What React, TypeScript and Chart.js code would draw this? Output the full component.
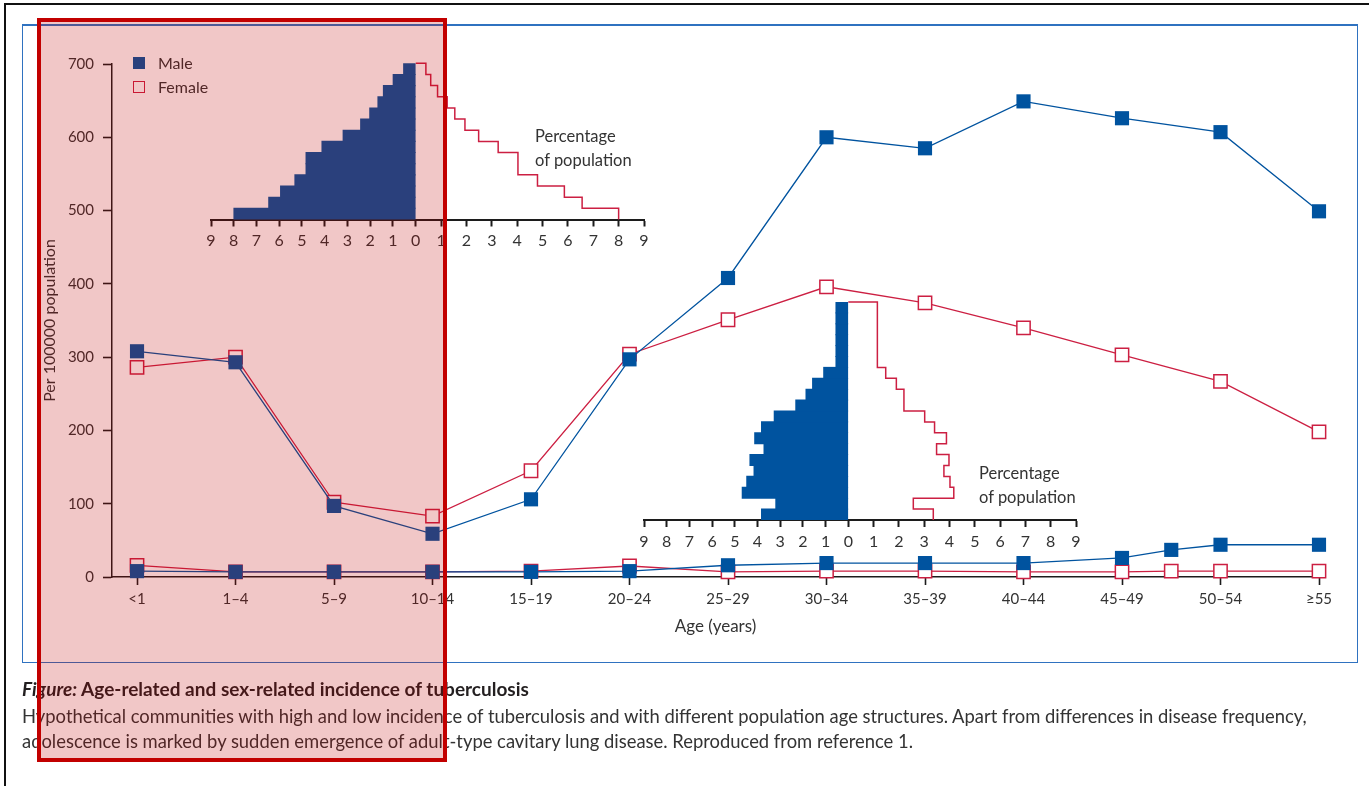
import React, { useEffect, useRef } from 'react';
import { Chart, registerables } from 'chart.js';

Chart.register(...registerables);

// ---------- data ----------
const ageGroups = ['<1', '1–4', '5–9', '10–14', '15–19', '20–24', '25–29', '30–34', '35–39', '40–44', '45–49', '50–54', '≥55'];

// high-incidence community (per 100000)
const highMale = [308, 293, 97, 59, 106, 297, 408, 600, 585, 649, 626, 607, 499];
const highFemale = [286, 300, 102, 83, 145, 304, 351, 396, 374, 340, 303, 267, 198];

// low-incidence community (per 100000); one extra survey point between 45–49 and 50–54
const lowPositions = [0, 1, 2, 3, 4, 5, 6, 7, 8, 9, 10, 10.5, 11, 12];
const lowMale = [8, 7, 7, 7, 7, 8, 16, 19, 19, 19, 26, 37, 44, 44];
const lowFemale = [16, 7, 7, 7, 8, 15, 7, 8, 8, 7, 7, 8, 8, 8];

const yTickValues = [0, 100, 200, 300, 400, 500, 600, 700];

// population pyramids: percentage of population per age band (youngest band first)
const pyramidTickPercents = [-9, -8, -7, -6, -5, -4, -3, -2, -1, 0, 1, 2, 3, 4, 5, 6, 7, 8, 9];
const youngMale = [8.0, 6.47, 5.95, 5.32, 4.83, 4.83, 4.13, 3.2, 2.43, 2.03, 1.67, 1.43, 1.0, 0.54];
const youngFemale = [8.0, 6.56, 5.86, 4.8, 4.03, 4.03, 3.25, 2.48, 1.94, 1.54, 1.24, 0.86, 0.59, 0.4];
const olderMale = [3.83, 3.2, 4.68, 4.48, 4.16, 4.34, 3.72, 4.13, 3.83, 3.27, 2.32, 1.87, 1.58, 1.09, 0.55, 0.55, 0.55, 0.55, 0.55, 0.55];
const olderFemale = [3.36, 2.57, 4.17, 4.02, 3.78, 3.98, 3.49, 3.88, 3.41, 3.02, 2.2, 2.2, 1.9, 1.48, 1.15, 1.15, 1.15, 1.15, 1.15, 1.15];

// ---------- styles ----------
const FONT = 'Lato, "Open Sans", sans-serif';
const MALE = '#00539f';
const FEMALE = '#cc1f42';
const AXIS = '#1c1c1c';
const TEXT = '#333333';
const LEFT_K = 0.897; // left half of pyramid axes is drawn slightly narrower

Chart.defaults.font.family = FONT;

function MainChart() {
  const ref = useRef<HTMLCanvasElement>(null);
  useEffect(() => {
    const maleStyle = {
      borderColor: MALE,
      backgroundColor: MALE,
      borderWidth: 1.3,
      pointStyle: 'rect',
      pointRadius: 10,
      pointBorderWidth: 0,
      pointBackgroundColor: MALE,
      clip: false,
      tension: 0,
    };
    const femaleStyle = {
      borderColor: FEMALE,
      backgroundColor: '#ffffff',
      borderWidth: 1.3,
      pointStyle: 'rect',
      pointRadius: 9.4,
      pointBorderWidth: 1.5,
      pointBorderColor: FEMALE,
      pointBackgroundColor: '#ffffff',
      clip: false,
      tension: 0,
    };
    const chart = new Chart(ref.current!, {
      type: 'line',
      data: {
        datasets: [
          { label: 'Male (high)', data: highMale.map((v, i) => ({ x: i, y: v })), ...maleStyle },
          { label: 'Male (low)', data: lowPositions.map((p, i) => ({ x: p, y: lowMale[i] })), ...maleStyle },
          { label: 'Female (high)', data: highFemale.map((v, i) => ({ x: i, y: v })), ...femaleStyle },
          { label: 'Female (low)', data: lowPositions.map((p, i) => ({ x: p, y: lowFemale[i] })), ...femaleStyle },
        ] as any,
      },
      options: {
        animation: false,
        responsive: false,
        layout: { padding: { left: 0, right: 50, top: 64, bottom: 149 } },
        plugins: { legend: { display: false }, tooltip: { enabled: false } },
        scales: {
          x: {
            type: 'linear',
            min: -0.254,
            max: 12,
            afterBuildTicks: (s: any) => {
              s.ticks = ageGroups.map((_, i) => ({ value: i }));
            },
            afterFit: (s: any) => {
              s.height = 60;
              s.paddingLeft = 0;
              s.paddingRight = 0;
            },
            ticks: {
              callback: (v: any) => ageGroups[v] ?? '',
              autoSkip: false,
              maxRotation: 0,
              padding: 5,
              color: TEXT,
              font: { size: 15, family: FONT },
            },
            grid: { drawOnChartArea: false, drawTicks: true, tickLength: 8, tickColor: AXIS, tickWidth: 1.6 },
            border: { color: AXIS, width: 1.5 },
            title: {
              display: true,
              text: 'Age (years)',
              color: TEXT,
              font: { size: 17, family: FONT },
              padding: { top: 0, bottom: 0 },
            },
          },
          y: {
            type: 'linear',
            min: 0,
            max: 700,
            afterBuildTicks: (s: any) => {
              s.ticks = yTickValues.map((v) => ({ value: v }));
            },
            afterFit: (s: any) => {
              s.width = 112;
              s.paddingTop = 0;
              s.paddingBottom = 0;
            },
            ticks: { padding: 9, color: TEXT, font: { size: 15, family: FONT } },
            grid: { drawOnChartArea: false, drawTicks: true, tickLength: 9, tickColor: AXIS, tickWidth: 1.6 },
            border: { color: AXIS, width: 1.5 },
            title: {
              display: true,
              text: 'Per 100000 population',
              color: TEXT,
              font: { size: 16, family: FONT },
              padding: { top: 40, bottom: 0 },
            },
          },
        },
      } as any,
    });
    return () => chart.destroy();
  }, []);
  return <canvas ref={ref} width={1369} height={786} style={{ position: 'absolute', left: 0, top: 0 }} />;
}

type PyramidProps = {
  male: number[];
  female: number[];
  left: number;
  top: number;
  width: number;
  height: number;
  padding: { left: number; right: number; top: number; bottom: number };
};

const AXIS_H = 30;

function Pyramid({ male, female, left, top, width, height, padding }: PyramidProps) {
  const ref = useRef<HTMLCanvasElement>(null);
  useEffect(() => {
    const n = male.length;
    const outline: { x: number; y: number }[] = [{ x: 0, y: n }];
    for (let i = n - 1; i >= 0; i--) {
      outline.push({ x: female[i], y: i + 1 });
      outline.push({ x: female[i], y: i });
    }
    const plotH = height - padding.top - padding.bottom - AXIS_H;
    const chart = new Chart(ref.current!, {
      type: 'bar',
      data: {
        labels: male.map((_, i) => String(i)),
        datasets: [
          {
            label: 'Male',
            data: male.map((v) => -v * LEFT_K),
            backgroundColor: MALE,
            borderWidth: 0,
            grouped: false,
            barThickness: plotH / n + 0.4,
            barPercentage: 1,
            categoryPercentage: 1,
            xAxisID: 'x',
            yAxisID: 'y',
          },
          {
            type: 'line',
            label: 'Female',
            indexAxis: 'x',
            data: outline,
            borderColor: FEMALE,
            borderWidth: 1.5,
            pointRadius: 0,
            fill: false,
            tension: 0,
            xAxisID: 'x',
            yAxisID: 'yf',
            clip: false,
          },
        ] as any,
      },
      options: {
        indexAxis: 'y',
        animation: false,
        responsive: false,
        layout: { padding },
        plugins: { legend: { display: false }, tooltip: { enabled: false } },
        scales: {
          x: {
            type: 'linear',
            min: -9 * LEFT_K,
            max: 9,
            offset: false,
            afterBuildTicks: (s: any) => {
              s.ticks = pyramidTickPercents.map((p) => ({ value: p < 0 ? p * LEFT_K : p }));
            },
            afterFit: (s: any) => {
              s.height = AXIS_H;
              s.paddingLeft = 0;
              s.paddingRight = 0;
            },
            ticks: {
              callback: (v: any, i: number) => String(Math.abs(pyramidTickPercents[i])),
              autoSkip: false,
              maxRotation: 0,
              padding: 5,
              color: TEXT,
              font: { size: 16, family: FONT },
            },
            grid: { drawOnChartArea: false, drawTicks: true, tickLength: 7, tickColor: AXIS, tickWidth: 2, offset: false },
            border: { color: AXIS, width: 2 },
          },
          y: { type: 'category', reverse: true, display: false, offset: true },
          yf: { type: 'linear', min: 0, max: n, display: false, offset: false, grace: 0 },
        },
      } as any,
    });
    return () => chart.destroy();
  }, []);
  return (
    <canvas
      ref={ref}
      width={width}
      height={height}
      style={{ position: 'absolute', left, top }}
    />
  );
}

const txt = (extra: React.CSSProperties): React.CSSProperties => ({
  position: 'absolute',
  fontFamily: FONT,
  color: TEXT,
  whiteSpace: 'nowrap',
  lineHeight: 1,
  ...extra,
});

export default function App() {
  return (
    <div
      style={{
        position: 'absolute',
        left: 0,
        top: 0,
        width: 1369,
        height: 786,
        overflow: 'hidden',
        background: '#ffffff',
      }}
    >
      {/* page frame */}
      <div style={{ position: 'absolute', left: 4, top: 3, width: 1369, height: 790, borderTop: '2px solid #111', borderLeft: '2px solid #111' }} />
      {/* blue figure panel */}
      <div
        style={{
          position: 'absolute',
          left: 22,
          top: 24,
          width: 1336,
          height: 639,
          boxSizing: 'border-box',
          border: '1.5px solid #2f72c0',
          borderTopWidth: 2,
        }}
      />
      <MainChart />
      <Pyramid
        male={youngMale}
        female={youngFemale}
        left={195}
        top={50}
        width={470}
        height={205}
        padding={{ left: 16, right: 21, top: 13.3, bottom: 5.5 }}
      />
      <Pyramid
        male={olderMale}
        female={olderFemale}
        left={630}
        top={290}
        width={465}
        height={265}
        padding={{ left: 14, right: 19, top: 12, bottom: 5 }}
      />
      {/* legend */}
      <div style={{ position: 'absolute', left: 133, top: 57, width: 12, height: 12, background: MALE }} />
      <div style={{ position: 'absolute', left: 133, top: 81, width: 12, height: 12, boxSizing: 'border-box', border: `1.5px solid ${FEMALE}`, background: '#fff' }} />
      <div style={txt({ left: 158, top: 55, fontSize: 16 })}>Male</div>
      <div style={txt({ left: 158, top: 79, fontSize: 16 })}>Female</div>
      {/* pyramid notes */}
      <div style={txt({ left: 535, top: 124, fontSize: 16.5, lineHeight: '24px' })}>
        Percentage
        <br />
        of population
      </div>
      <div style={txt({ left: 979, top: 461, fontSize: 16.5, lineHeight: '24px' })}>
        Percentage
        <br />
        of population
      </div>
      {/* caption */}
      <div style={txt({ left: 22, top: 679, fontSize: 19, fontWeight: 700, color: '#231f20' })}>
        <span style={{ fontStyle: 'italic' }}>Figure:</span> Age-related and sex-related incidence of tuberculosis
      </div>
      <div style={txt({ left: 22, top: 704, fontSize: 18.4, lineHeight: '25px' })}>
        Hypothetical communities with high and low incidence of tuberculosis and with different population age structures. Apart from differences in disease frequency,
        <br />
        adolescence is marked by sudden emergence of adult-type cavitary lung disease. Reproduced from reference 1.
      </div>
      {/* highlight box */}
      <div
        style={{
          position: 'absolute',
          left: 37,
          top: 18,
          width: 410,
          height: 744,
          boxSizing: 'border-box',
          border: '4.5px solid #c20000',
          background: 'rgba(192, 0, 0, 0.22)',
          pointerEvents: 'none',
        }}
      />
    </div>
  );
}
